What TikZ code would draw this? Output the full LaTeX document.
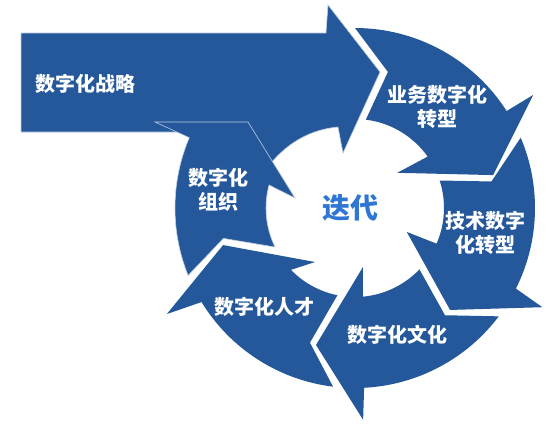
\documentclass[tikz,border=0pt]{standalone}
\usepackage{fontspec}
\newfontfamily\cjkfont{Noto Sans CJK SC}
\usetikzlibrary{positioning}
\definecolor{cycleblue}{RGB}{36,88,155}
\definecolor{iterblue}{RGB}{46,117,212}

\begin{document}
\begin{tikzpicture}[x=1pt,y=-1pt,
  seg/.style={fill=cycleblue,draw=none},
  segline/.style={fill=cycleblue,draw=white!70!cycleblue,line width=0.6pt},
  lab/.style={font=\cjkfont\bfseries\fontsize{20}{24}\selectfont,text=white,align=center}]
\useasboundingbox (0,0) rectangle (553,424);
\draw[segline] (21,33) -- (326,33) -- (328,5) -- (380,72) -- (343,153) -- (338,127) .. controls (305,130) and (280,148) .. (262,175) -- (230,160) -- (190,132) -- (21,132) -- cycle;
\begin{scope}[shift={(355,208)}]
\draw[seg] (-90:180) arc[start angle=-90,end angle=-32.6,radius=180] -- (-32.4:211) -- (-13.4:142) -- (-39.8:55) -- (-35.3:89) arc[start angle=-35.3,end angle=-83,radius=89] -- (-76.4:140) -- cycle;
\draw[seg] (-23:180) arc[start angle=-23,end angle=26.6,radius=180] -- (27.9:212) -- (47:139.4) -- (24.8:57) -- (23.6:89) arc[start angle=23.6,end angle=-18,radius=89] -- (-11:139) -- cycle;
\draw[seg] (37:180) arc[start angle=37,end angle=87.1,radius=180] -- (87.8:212) -- (105.9:142.4) -- (82.3:59.5) -- (84.9:89) arc[start angle=84.9,end angle=43.6,radius=89] -- (50:140) -- cycle;
\draw[seg] (97:180) arc[start angle=97,end angle=148.5,radius=180] -- (150.6:216) -- (164.3:137) -- (126.5:67.2) -- (136:89) arc[start angle=136,end angle=101.4,radius=89] -- (108.5:142) -- cycle;
\draw[segline] (158:180) arc[start angle=158,end angle=203,radius=180] -- (-200,-86) -- (-107,-86) -- (-60,-10) -- (195:89) arc[start angle=195,end angle=154,radius=89] -- (167:135) -- cycle;
\end{scope}

\node[lab] (strategy) at (85,84) {数字化战略};
\node[lab] (business) at (437,107) {业务数字化\\转型};
\node[lab] (tech) at (485,233) {技术数字\\化转型};
\node[lab] (culture) at (397,335) {数字化文化};
\node[lab] (talent) at (264,307) {数字化人才};
\node[lab] (org) at (218,190) {数字化\\组织};
\node[font=\cjkfont\bfseries\fontsize{28}{32}\selectfont,text=iterblue] (iter) at (350,208) {迭代};
\end{tikzpicture}
\end{document}
